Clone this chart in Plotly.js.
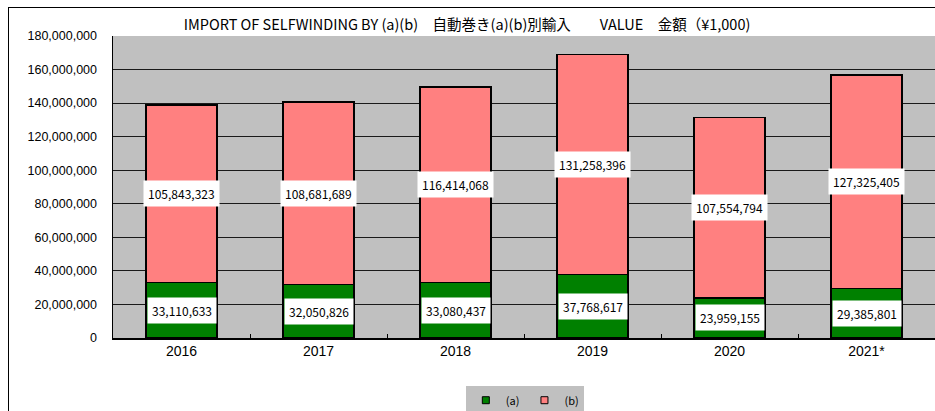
<!DOCTYPE html>
<html>
<head>
<meta charset="utf-8">
<script src="https://cdn.plot.ly/plotly-3.0.1.min.js"></script>
<style>
html,body{margin:0;padding:0;background:#fff;overflow:hidden;}
#wrap{position:relative;width:935px;height:411px;}
#chart{position:absolute;left:0;top:0;width:935px;height:411px;}
#frame{position:absolute;left:8px;top:7px;width:1000px;height:500px;border-left:1px solid #000;border-top:1px solid #000;pointer-events:none;}
</style>
</head>
<body>
<div id="wrap"><div id="chart"></div><div id="frame"></div></div>
<script>
const categories = ["2016", "2017", "2018", "2019", "2020", "2021*"];
const seriesA = [33110633, 32050826, 33080437, 37768617, 23959155, 29385801];
const seriesB = [105843323, 108681689, 116414068, 131258396, 107554794, 127325405];
const yTicks = [0, 20000000, 40000000, 60000000, 80000000, 100000000, 120000000, 140000000, 160000000, 180000000];
const yTickText = ["0", "20,000,000", "40,000,000", "60,000,000", "80,000,000", "100,000,000", "120,000,000", "140,000,000", "160,000,000", "180,000,000"];
const nameA = "(a)";
const nameB = "(b)";
const colorA = "#008000";
const colorB = "#FF8080";
const titleText = "IMPORT OF SELFWINDING BY (a)(b)\u3000自動巻き(a)(b)別輸入\u3000\u3000VALUE\u3000金額（\u00a51,000)";

const fmt = v => v.toLocaleString("en-US");
const labelFont = {family: "Noto Sans CJK JP, DejaVu Sans", size: 12, color: "#000"};

const traces = [
  {type: "bar", name: nameA, x: categories, y: seriesA, showlegend: false,
   marker: {color: colorA, line: {color: "#000", width: 1.4}}, width: 0.52, hoverinfo: "none"},
  {type: "bar", name: nameB, x: categories, y: seriesB, showlegend: false,
   marker: {color: colorB, line: {color: "#000", width: 1.4}}, width: 0.52, hoverinfo: "none"},
  {type: "scatter", mode: "markers", name: nameA, x: [null], y: [null], showlegend: true,
   marker: {symbol: "square", size: 7, color: colorA, line: {color: "#000", width: 1}}, hoverinfo: "none"},
  {type: "scatter", mode: "markers", name: nameB, x: [null], y: [null], showlegend: true,
   marker: {symbol: "square", size: 7, color: colorB, line: {color: "#000", width: 1}}, hoverinfo: "none"}
];

const annotations = [];
categories.forEach((c, i) => {
  annotations.push({x: i, y: seriesA[i] / 2, xref: "x", yref: "y", text: fmt(seriesA[i]),
    showarrow: false, bgcolor: "#fff", borderpad: 4, font: labelFont});
  annotations.push({x: i, y: seriesA[i] + seriesB[i] / 2, xref: "x", yref: "y", text: fmt(seriesB[i]),
    showarrow: false, bgcolor: "#fff", borderpad: 4, font: labelFont});
});

const layout = {
  width: 935, height: 411,
  margin: {l: 113, r: 0, t: 36, b: 73, autoexpand: false},
  paper_bgcolor: "rgba(0,0,0,0)",
  plot_bgcolor: "#C0C0C0",
  barmode: "stack",
  showlegend: true,
  title: {text: titleText, x: 0.4995, xref: "container", y: 0.94, yref: "container", yanchor: "middle",
    font: {family: "Noto Sans CJK JP, DejaVu Sans", size: 14.5, color: "#000"}},
  xaxis: {type: "category", range: [-0.5, 5.5], tickfont: {family: "Liberation Sans, Arial", size: 14, color: "#000"},
    showline: true, linecolor: "#000", linewidth: 1.5, ticks: "inside", tickson: "boundaries",
    ticklen: 4, tickcolor: "#000", showgrid: false, zeroline: false, fixedrange: true, automargin: false},
  yaxis: {range: [0, 180000000], tickvals: yTicks, ticktext: yTickText,
    tickfont: {family: "Liberation Sans, Arial", size: 12.5, color: "#000"},
    showline: true, linecolor: "#000", linewidth: 1.5, ticks: "", ticklabelstandoff: 12,
    showgrid: true, gridcolor: "#1a1a1a", gridwidth: 1, zeroline: false, fixedrange: true, automargin: false},
  legend: {orientation: "h", x: 0.501, xanchor: "center", y: -0.158, yanchor: "top",
    bgcolor: "#C0C0C0", font: {family: "Noto Sans CJK JP, DejaVu Sans", size: 11, color: "#000"},
    itemwidth: 30, traceorder: "normal"},
  annotations: annotations
};

Plotly.newPlot("chart", traces, layout, {displayModeBar: false, staticPlot: true});
</script>
</body>
</html>
